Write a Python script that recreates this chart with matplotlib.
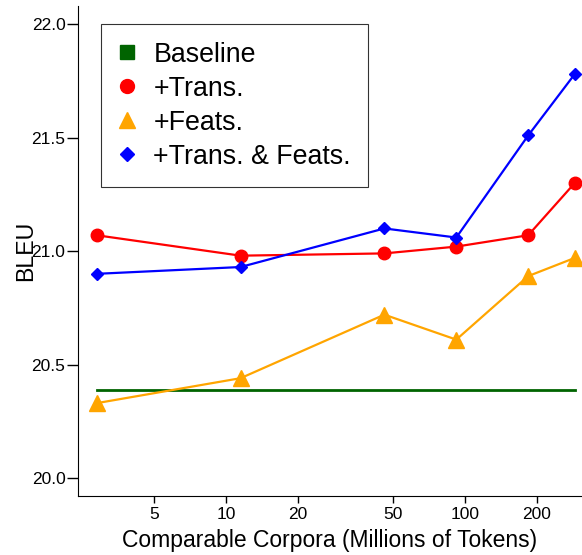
import numpy as np
import matplotlib
matplotlib.use('Agg')
import matplotlib.pyplot as plt
from matplotlib.lines import Line2D

plt.rcParams['font.family'] = ['Liberation Sans', 'DejaVu Sans']

# Corpus sizes (millions of tokens) and BLEU scores
corpus_size = [2.875, 11.5, 46, 92, 184, 288]
baseline = [20.39, 20.39, 20.39, 20.39, 20.39, 20.39]
trans = [21.07, 20.98, 20.99, 21.02, 21.07, 21.30]
feats = [20.33, 20.44, 20.72, 20.61, 20.89, 20.97]
trans_feats = [20.90, 20.93, 21.10, 21.06, 21.51, 21.78]

x_ticks = [5, 10, 20, 50, 100, 200]
y_ticks = [20.0, 20.5, 21.0, 21.5, 22.0]

GREEN = '#006400'
RED = '#ff0000'
ORANGE = '#ffa500'
BLUE = '#0000ff'

fig = plt.figure(figsize=(5.82, 5.55), dpi=100)
ax = fig.add_axes([0.134, 0.106, 0.866, 0.883])

ax.plot(corpus_size, baseline, '-', color=GREEN, lw=2.0, zorder=2)
ax.plot(corpus_size, feats, '-^', color=ORANGE, lw=1.6, ms=11, zorder=3)
ax.plot(corpus_size, trans, '-o', color=RED, lw=1.6, ms=9, zorder=4)
ax.plot(corpus_size, trans_feats, '-D', color=BLUE, lw=1.6, ms=6.5, zorder=5)

ax.set_xscale('log')
ax.set_xlim(2.4, 309)
ax.set_ylim(19.92, 22.08)
ax.set_xticks(x_ticks)
ax.set_xticklabels([str(t) for t in x_ticks])
ax.xaxis.set_minor_locator(matplotlib.ticker.NullLocator())
ax.set_yticks(y_ticks)
ax.set_yticklabels(['%.1f' % t for t in y_ticks])

ax.spines['top'].set_visible(False)
ax.spines['right'].set_visible(False)
ax.tick_params(axis='y', direction='out', length=8, width=1, labelsize=12.5, pad=1)
ax.tick_params(axis='x', direction='out', length=5, width=1, labelsize=12.5, pad=3)

ax.set_xlabel('Comparable Corpora (Millions of Tokens)', fontsize=16.5, labelpad=5)
ax.set_ylabel('BLEU', fontsize=16.7, labelpad=-4)

handles = [
    Line2D([], [], ls='none', marker='s', color=GREEN, ms=10),
    Line2D([], [], ls='none', marker='o', color=RED, ms=10),
    Line2D([], [], ls='none', marker='^', color=ORANGE, ms=12),
    Line2D([], [], ls='none', marker='D', color=BLUE, ms=7),
]
labels = ['Baseline', '+Trans.', '+Feats.', '+Trans. & Feats.']
leg = ax.legend(handles, labels, loc='upper left', bbox_to_anchor=(0.046, 0.963),
                fontsize=19.3, frameon=True, fancybox=False, handlelength=0.6,
                handletextpad=0.7, labelspacing=0.3, borderpad=0.65,
                borderaxespad=0)
leg.get_frame().set_edgecolor('black')
leg.get_frame().set_linewidth(0.8)

fig.savefig('out.png', dpi=100)
